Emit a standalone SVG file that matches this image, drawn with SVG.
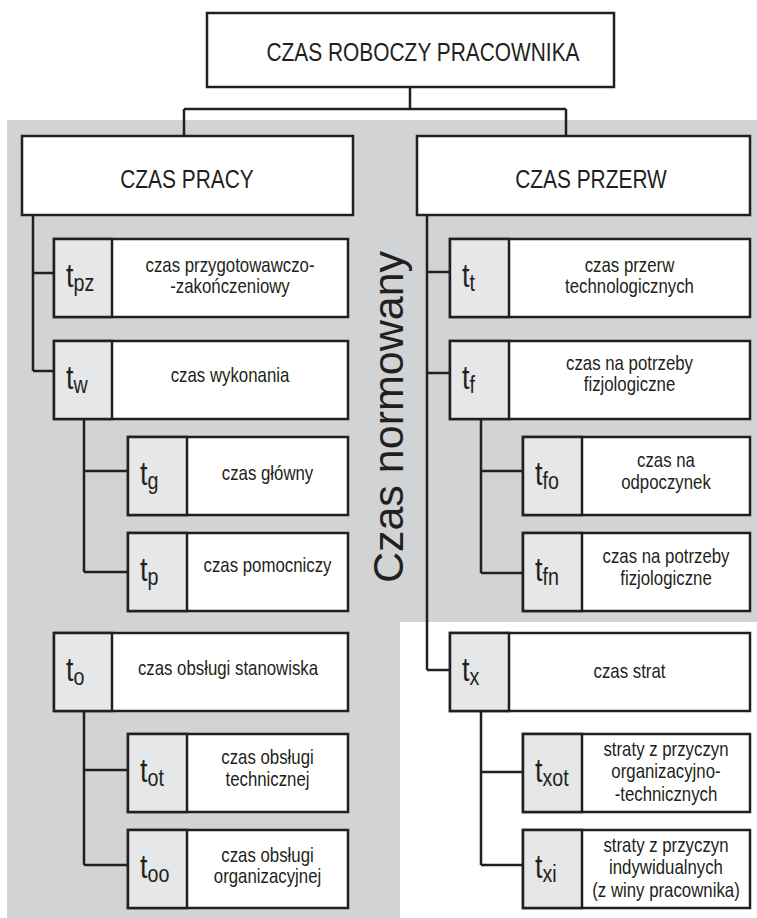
<svg xmlns="http://www.w3.org/2000/svg" width="757" height="918" viewBox="0 0 757 918">
<style>
.bg{fill:#d1d3d4}
.bx{fill:#fff;stroke:#231f20;stroke-width:2.5}
.cell{fill:#e6e7e8;stroke:#231f20;stroke-width:2.5}
.ln{fill:none;stroke:#231f20;stroke-width:2.5}
text{font-family:"Liberation Sans",Arial,Helvetica,sans-serif;fill:#231f20}
.h{font-size:25.5px;text-anchor:middle}
.s{font-size:20.5px;text-anchor:middle}
.t{font-size:33px;text-anchor:start}
.sub{font-size:24px}
.big{font-size:43px;text-anchor:middle}
</style>
<polygon class="bg" points="7,120 757,120 757,622 400,622 400,918 7,918"/>
<text class="big" transform="translate(403 417) rotate(-90)">Czas normowany</text>
<g id="connectors">
<path class="ln" d="M410 87V109M184 109H566M184 109V136M566 109V136"/>
<path class="ln" d="M33 215V371M33 273H54M33 371H54"/>
<path class="ln" d="M84 419V572M84 471H128M84 572H128"/>
<path class="ln" d="M84 711V865M84 770H128M84 865H128"/>
<path class="ln" d="M427 215V670M427 272H450M427 373H450M427 670H450"/>
<path class="ln" d="M481 419V573M481 471H523M481 573H523"/>
<path class="ln" d="M481 711V865M481 772H523M481 865H523"/>
</g>
<g id="root">
<rect class="bx" x="207" y="13" width="407" height="74"/>
<text class="h" transform="translate(423 61) scale(0.82 1)">CZAS ROBOCZY PRACOWNIKA</text>
</g>
<g id="czas-pracy">
<rect class="bx" x="22" y="136" width="331" height="79"/>
<text class="h" transform="translate(187 188) scale(0.82 1)">CZAS PRACY</text>
</g>
<g id="czas-przerw">
<rect class="bx" x="417" y="136" width="333" height="79"/>
<text class="h" transform="translate(591 188) scale(0.82 1)">CZAS PRZERW</text>
</g>
<g id="tpz">
<rect class="bx" x="54" y="239" width="294" height="78"/>
<rect class="cell" x="54" y="239" width="58" height="78"/>
<text class="t" transform="translate(66 287) scale(0.82 1)">t<tspan class="sub" dy="4">pz</tspan></text>
<text class="s" transform="translate(230 272) scale(0.82 1)"><tspan x="0" y="0">czas przygotowawczo-</tspan><tspan x="0" y="21.5">-zakończeniowy</tspan></text>
</g>
<g id="tw">
<rect class="bx" x="54" y="341" width="294" height="78"/>
<rect class="cell" x="54" y="341" width="58" height="78"/>
<text class="t" transform="translate(66 389) scale(0.82 1)">t<tspan class="sub" dy="4">w</tspan></text>
<text class="s" transform="translate(230 382) scale(0.82 1)">czas wykonania</text>
</g>
<g id="tg">
<rect class="bx" x="128" y="437" width="220" height="78"/>
<rect class="cell" x="128" y="437" width="59" height="78"/>
<text class="t" transform="translate(140 485) scale(0.82 1)">t<tspan class="sub" dy="4">g</tspan></text>
<text class="s" transform="translate(267.5 480) scale(0.82 1)">czas główny</text>
</g>
<g id="tp">
<rect class="bx" x="128" y="533" width="220" height="78"/>
<rect class="cell" x="128" y="533" width="59" height="78"/>
<text class="t" transform="translate(140 581) scale(0.82 1)">t<tspan class="sub" dy="4">p</tspan></text>
<text class="s" transform="translate(267.5 572) scale(0.82 1)">czas pomocniczy</text>
</g>
<g id="to">
<rect class="bx" x="54" y="633" width="294" height="78"/>
<rect class="cell" x="54" y="633" width="58" height="78"/>
<text class="t" transform="translate(66 681) scale(0.82 1)">t<tspan class="sub" dy="4">o</tspan></text>
<text class="s" transform="translate(228 675) scale(0.82 1)">czas obsługi stanowiska</text>
</g>
<g id="tot">
<rect class="bx" x="128" y="734" width="220" height="78"/>
<rect class="cell" x="128" y="734" width="59" height="78"/>
<text class="t" transform="translate(140 782) scale(0.82 1)">t<tspan class="sub" dy="4">ot</tspan></text>
<text class="s" transform="translate(267.5 764) scale(0.82 1)"><tspan x="0" y="0">czas obsługi</tspan><tspan x="0" y="22">technicznej</tspan></text>
</g>
<g id="too">
<rect class="bx" x="128" y="830" width="220" height="78"/>
<rect class="cell" x="128" y="830" width="59" height="78"/>
<text class="t" transform="translate(140 878) scale(0.82 1)">t<tspan class="sub" dy="4">oo</tspan></text>
<text class="s" transform="translate(267.5 862) scale(0.82 1)"><tspan x="0" y="0">czas obsługi</tspan><tspan x="0" y="21.5">organizacyjnej</tspan></text>
</g>
<g id="tt">
<rect class="bx" x="450" y="239" width="300" height="78"/>
<rect class="cell" x="450" y="239" width="59" height="78"/>
<text class="t" transform="translate(462 287) scale(0.82 1)">t<tspan class="sub" dy="4">t</tspan></text>
<text class="s" transform="translate(629.5 272) scale(0.82 1)"><tspan x="0" y="0">czas przerw</tspan><tspan x="0" y="21.5">technologicznych</tspan></text>
</g>
<g id="tf">
<rect class="bx" x="450" y="341" width="300" height="78"/>
<rect class="cell" x="450" y="341" width="59" height="78"/>
<text class="t" transform="translate(462 389) scale(0.82 1)">t<tspan class="sub" dy="4">f</tspan></text>
<text class="s" transform="translate(629.5 370) scale(0.82 1)"><tspan x="0" y="0">czas na potrzeby</tspan><tspan x="0" y="21.5">fizjologiczne</tspan></text>
</g>
<g id="tfo">
<rect class="bx" x="523" y="437" width="227" height="78"/>
<rect class="cell" x="523" y="437" width="59" height="78"/>
<text class="t" transform="translate(535 485) scale(0.82 1)">t<tspan class="sub" dy="4">fo</tspan></text>
<text class="s" transform="translate(666 467) scale(0.82 1)"><tspan x="0" y="0">czas na</tspan><tspan x="0" y="22">odpoczynek</tspan></text>
</g>
<g id="tfn">
<rect class="bx" x="523" y="533" width="227" height="78"/>
<rect class="cell" x="523" y="533" width="59" height="78"/>
<text class="t" transform="translate(535 581) scale(0.82 1)">t<tspan class="sub" dy="4">fn</tspan></text>
<text class="s" transform="translate(666 563) scale(0.82 1)"><tspan x="0" y="0">czas na potrzeby</tspan><tspan x="0" y="22">fizjologiczne</tspan></text>
</g>
<g id="tx">
<rect class="bx" x="450" y="633" width="300" height="78"/>
<rect class="cell" x="450" y="633" width="59" height="78"/>
<text class="t" transform="translate(462 681) scale(0.82 1)">t<tspan class="sub" dy="4">x</tspan></text>
<text class="s" transform="translate(629.5 678) scale(0.82 1)">czas strat</text>
</g>
<g id="txot">
<rect class="bx" x="523" y="734" width="227" height="78"/>
<rect class="cell" x="523" y="734" width="59" height="78"/>
<text class="t" transform="translate(535 782) scale(0.82 1)">t<tspan class="sub" dy="4">xot</tspan></text>
<text class="s" transform="translate(666 756) scale(0.82 1)"><tspan x="0" y="0">straty z przyczyn</tspan><tspan x="0" y="22.5">organizacyjno-</tspan><tspan x="0" y="45">-technicznych</tspan></text>
</g>
<g id="txi">
<rect class="bx" x="523" y="830" width="227" height="78"/>
<rect class="cell" x="523" y="830" width="59" height="78"/>
<text class="t" transform="translate(535 878) scale(0.82 1)">t<tspan class="sub" dy="4">xi</tspan></text>
<text class="s" transform="translate(666 852) scale(0.82 1)"><tspan x="0" y="0">straty z przyczyn</tspan><tspan x="0" y="22.5">indywidualnych</tspan><tspan x="0" y="45">(z winy pracownika)</tspan></text>
</g>
</svg>
